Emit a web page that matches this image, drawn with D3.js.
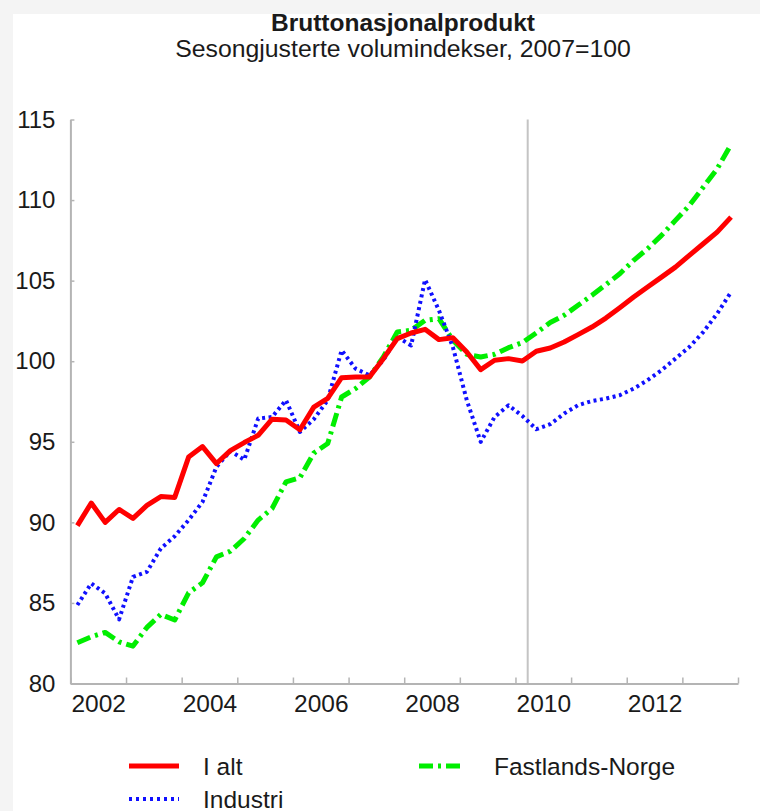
<!DOCTYPE html>
<html>
<head>
<meta charset="utf-8">
<script src="https://cdn.jsdelivr.net/npm/d3@7"></script>
<style>
  html, body { margin: 0; padding: 0; background: #f4f4f4; }
  svg { display: block; }
  text { font-family: "Liberation Sans", Arial, Helvetica, sans-serif; fill: #1a1a1a; }
</style>
</head>
<body>
<script>
// ---- Data (quarterly, 2002K1 .. 2013K4) ----
const quarters = [
  "2002K1","2002K2","2002K3","2002K4","2003K1","2003K2","2003K3","2003K4",
  "2004K1","2004K2","2004K3","2004K4","2005K1","2005K2","2005K3","2005K4",
  "2006K1","2006K2","2006K3","2006K4","2007K1","2007K2","2007K3","2007K4",
  "2008K1","2008K2","2008K3","2008K4","2009K1","2009K2","2009K3","2009K4",
  "2010K1","2010K2","2010K3","2010K4","2011K1","2011K2","2011K3","2011K4",
  "2012K1","2012K2","2012K3","2012K4","2013K1","2013K2","2013K3","2013K4"
];
const iAlt = [
  89.8, 91.2, 90.0, 90.8, 90.25, 91.05, 91.6, 91.55,
  94.05, 94.7, 93.65, 94.45, 94.95, 95.4, 96.4, 96.35,
  95.75, 97.15, 97.7, 98.98, 99.02, 99.02, 100.16, 101.4,
  101.75, 101.98, 101.34, 101.46, 100.57, 99.48, 100.06, 100.16,
  100.01, 100.62, 100.82, 101.19, 101.65, 102.12, 102.68, 103.32,
  103.98, 104.6, 105.22, 105.84, 106.57, 107.29, 108.01, 108.94
];
const industri = [
  84.87, 86.21, 85.59, 83.98, 86.62, 86.93, 88.38, 89.14,
  90.14, 91.27, 93.44, 94.43, 93.88, 96.44, 96.54, 97.58,
  95.61, 96.4, 97.58, 100.68, 99.54, 99.13, 100.06, 101.5,
  100.98, 105.06, 103.15, 100.88, 97.58, 94.99, 96.54, 97.26,
  96.6, 95.78, 96.09, 96.75, 97.27, 97.53, 97.68, 97.89,
  98.3, 98.82, 99.44, 100.16, 100.88, 101.81, 102.95, 104.29
];
const fastland = [
  82.53, 82.9, 83.17, 82.59, 82.32, 83.48, 84.29, 83.94,
  85.63, 86.25, 87.86, 88.21, 89.0, 90.14, 90.86, 92.51,
  92.77, 94.3, 94.89, 97.78, 98.3, 99.02, 100.26, 101.81,
  101.92, 102.54, 102.64, 101.3, 100.43, 100.26, 100.43, 100.84,
  101.16, 101.76, 102.4, 102.85, 103.47, 104.09, 104.75, 105.43,
  106.26, 106.98, 107.81, 108.74, 109.66, 110.8, 111.94, 113.45
];
const yTicks = [80, 85, 90, 95, 100, 105, 110, 115];
const yearTicks = [2002,2003,2004,2005,2006,2007,2008,2009,2010,2011,2012,2013,2014];
const yearLabels = [2002, 2004, 2006, 2008, 2010, 2012];
const forecastStart = 2010.22;
const title = "Bruttonasjonalprodukt";
const subtitle = "Sesongjusterte volumindekser, 2007=100";
const seriesNames = ["I alt", "Industri", "Fastlands-Norge"];

// ---- Layout ----
const W = 760, H = 811;
const svg = d3.select("body").append("svg").attr("width", W).attr("height", H);

svg.append("rect").attr("x", 13).attr("y", 14).attr("width", W - 13).attr("height", H - 14).attr("fill", "#ffffff");

const x = d3.scaleLinear().domain([2002, 2014]).range([70.4, 738]);
const y = d3.scaleLinear().domain([80, 115]).range([683.5, 119.5]);

const qx = q => {
  const yr = +q.slice(0, 4), k = +q.slice(5);
  return yr + (k - 0.5) / 4;
};

// Title
svg.append("text").attr("x", 403).attr("y", 31).attr("text-anchor", "middle")
  .style("font-size", "24.5px").style("font-weight", "bold").text(title);
svg.append("text").attr("x", 403).attr("y", 57).attr("text-anchor", "middle")
  .style("font-size", "24.8px").text(subtitle);

const axisColor = "#b4b4b4";

// Forecast line
svg.append("line")
  .attr("x1", x(forecastStart)).attr("x2", x(forecastStart))
  .attr("y1", y(115)).attr("y2", y(80))
  .attr("stroke", "#c4c4c4").attr("stroke-width", 2);

// Y axis
const yAxis = svg.append("g").attr("transform", `translate(${x(2002)},0)`)
  .call(d3.axisLeft(y).tickValues(yTicks).tickSizeInner(-4).tickSizeOuter(0).tickPadding(15).tickFormat(d3.format("d")));
yAxis.select(".domain").attr("stroke", axisColor).attr("stroke-width", 2);
yAxis.selectAll(".tick line").attr("stroke", axisColor).attr("stroke-width", 1.5);
yAxis.selectAll(".tick text").style("font-size", "24px").style("font-family", '"Liberation Sans", Arial, sans-serif').attr("fill", "#1a1a1a");

// X axis ticks
const xAxis = svg.append("g").attr("transform", `translate(0,${y(80)})`)
  .call(d3.axisBottom(x).tickValues(yearTicks).tickSizeInner(-6).tickSizeOuter(0).tickFormat(""));
xAxis.select(".domain").attr("stroke", axisColor).attr("stroke-width", 2);
xAxis.selectAll(".tick line").attr("stroke", axisColor).attr("stroke-width", 1.5);

// X axis labels (centred in year)
const xLab = svg.append("g").attr("transform", `translate(0,${y(80)})`)
  .call(d3.axisBottom(x).tickValues(yearLabels.map(v => v + 0.5)).tickSize(0).tickPadding(11).tickFormat(d => String(Math.floor(d))));
xLab.select(".domain").remove();
xLab.selectAll(".tick text").style("font-size", "24.5px").style("font-family", '"Liberation Sans", Arial, sans-serif').attr("fill", "#1a1a1a");

// Lines
const line = d3.line().x((d, i) => x(qx(quarters[i]))).y(d => y(d));
const styles = [
  { data: fastland, color: "#00ee00", width: 5, dash: "14,5,3,5" },
  { data: industri, color: "#1010ff", width: 4, dash: "3,3.5" },
  { data: iAlt, color: "#ff0000", width: 5, dash: null }
];
styles.forEach(s => {
  const p = svg.append("path").datum(s.data).attr("d", line)
    .attr("fill", "none").attr("stroke", s.color).attr("stroke-width", s.width)
    .attr("stroke-linejoin", "round");
  if (s.dash) p.attr("stroke-dasharray", s.dash);
});

// Legend
const legend = [
  { name: seriesNames[0], color: "#ff0000", width: 5, dash: null, x1: 129, x2: 179, ly: 766, tx: 203 },
  { name: seriesNames[1], color: "#1010ff", width: 4, dash: "3,4", x1: 129, x2: 179, ly: 799, tx: 203 },
  { name: seriesNames[2], color: "#00ee00", width: 5, dash: "14,5,3,5", x1: 419, x2: 465, ly: 766, tx: 494 }
];
legend.forEach(l => {
  const ln = svg.append("line").attr("x1", l.x1).attr("x2", l.x2).attr("y1", l.ly).attr("y2", l.ly)
    .attr("stroke", l.color).attr("stroke-width", l.width);
  if (l.dash) ln.attr("stroke-dasharray", l.dash);
  svg.append("text").attr("x", l.tx).attr("y", l.ly + 8.5).style("font-size", "24.5px").text(l.name);
});
</script>
</body>
</html>
